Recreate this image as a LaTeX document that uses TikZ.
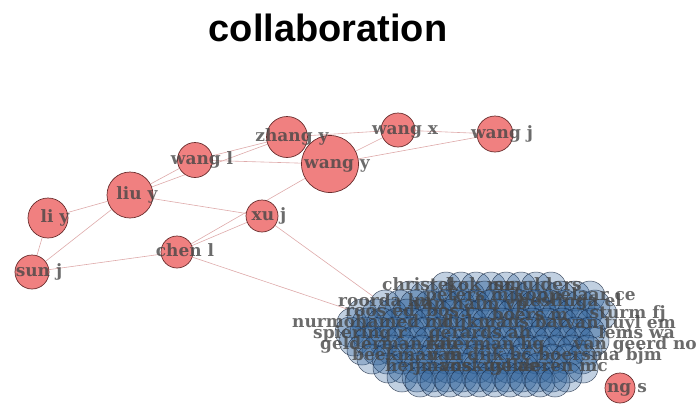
\documentclass[tikz,border=0pt]{standalone}
\usepackage{fontspec}
\newfontfamily\labelfont{DejaVu Serif}
\newfontfamily\titlefont{Liberation Sans}
\usetikzlibrary{backgrounds}
\definecolor{vred}{RGB}{240,128,128}
\definecolor{vredline}{RGB}{105,45,45}
\definecolor{vblue}{RGB}{50,100,155}
\definecolor{vblueline}{RGB}{20,35,60}
\definecolor{linkpink}{RGB}{222,170,170}
\definecolor{labgray}{RGB}{70,70,70}
\begin{document}
\begin{tikzpicture}[x=1pt, y=-1pt,
    author/.style={circle, draw=vredline, line width=0.7pt, fill=vred, inner sep=0pt, minimum size=#1},
    blob/.style={circle, draw=vblueline, line width=0.5pt, draw opacity=0.75, fill=vblue, fill opacity=0.3, inner sep=0pt, minimum size=30pt},
    lbl/.style={font=\labelfont\bfseries\fontsize{17}{17}\selectfont, text=labgray, text opacity=0.8, inner sep=0pt, text height=12pt, text depth=4pt},
    link/.style={draw=linkpink, line width=0.6pt}]
    \useasboundingbox (0,0) rectangle (697,408);

    \node[font=\titlefont\bfseries\fontsize{38}{38}\selectfont, anchor=base] (title) at (328,41) {collaboration};

    \foreach \r/\y/\xa/\n in {1/287/446/7, 2/296/410/12, 3/305/385/14, 4/314/362/16,
                              5/323/352/16, 6/332/350/16, 7/341/354/16, 8/350/362/15,
                              9/359/372/14, 10/368/388/13, 11/377/402/11, 12/382/420/9}
        \foreach \i in {0,...,\n}
            \node[blob] (b\r-\i) at (\xa+15*\i,\y) {};

    \node[author=40pt] (liy)    at (48,218)  {};
    \node[author=34pt] (sunj)   at (32,272)  {};
    \node[author=46pt] (liuy)   at (130,195) {};
    \node[author=35pt] (wangl)  at (195,160) {};
    \node[author=41pt] (zhangy) at (287,137) {};
    \node[author=57pt] (wangy)  at (330,164) {};
    \node[author=32pt] (xuj)    at (262,216) {};
    \node[author=32pt] (chenl)  at (177,252) {};
    \node[author=34pt] (wangx)  at (398,130) {};
    \node[author=36pt] (wangj)  at (495,134) {};
    \node[author=30pt] (ngs)    at (620,388) {};

    \begin{pgfonlayer}{background}
        \draw[link] (liy) -- (liuy);
        \draw[link] (liy) -- (sunj);
        \draw[link] (sunj) -- (liuy);
        \draw[link] (sunj) -- (chenl);
        \draw[link] (liuy) -- (wangl);
        \draw[link] (liuy) -- (zhangy);
        \draw[link] (liuy) -- (xuj);
        \draw[link] (wangl) -- (zhangy);
        \draw[link] (wangl) -- (wangy);
        \draw[link] (zhangy) -- (wangx);
        \draw[link] (wangy) -- (wangx);
        \draw[link] (wangy) -- (wangj);
        \draw[link] (wangx) -- (wangj);
        \draw[link] (chenl) -- (xuj);
        \draw[link] (chenl) -- (wangy);
        \draw[link] (xuj) -- (b3-0);
        \draw[link] (chenl) -- (b4-0);
    \end{pgfonlayer}

    \node[lbl, anchor=west] (c1) at (382,286) {christel};
    \node[lbl] (c2) at (480,286) {kok mr};
    \node[lbl, anchor=east] (c3) at (582,286) {smulders};
    \node[lbl] (c4) at (470,296) {peters mj};
    \node[lbl, anchor=east] (c5) at (636,296) {koppelaar ce};
    \node[lbl, anchor=west] (c6) at (338,302) {roorda lm};
    \node[lbl] (c25) at (470,305) {van halm vp};
    \node[lbl, anchor=east] (c7) at (622,302) {heslinga el};
    \node[lbl, anchor=west] (c8) at (345,312) {roos ed};
    \node[lbl] (c9) at (450,312) {bos r};
    \node[lbl] (c26) at (530,316) {boers m};
    \node[lbl, anchor=east] (c10) at (666,314) {sturm fj};
    \node[lbl, anchor=west] (c11) at (292,323) {nurmohamed mt};
    \node[lbl] (c12) at (505,323) {dijkmans bac};
    \node[lbl, anchor=east] (c13) at (676,324) {van tuyl em};
    \node[lbl, anchor=west] (c14) at (313,334) {spiering r};
    \node[lbl] (c15) at (480,334) {gerards ah};
    \node[lbl, anchor=east] (c16) at (675,334) {lems wa};
    \node[lbl, anchor=west] (c17) at (320,345) {gelderman km};
    \node[lbl] (c18) at (485,345) {raterman hg};
    \node[lbl, anchor=east] (c19) at (697,345) {van geerd no};
    \node[lbl, anchor=west] (c20) at (352,356) {beekman m};
    \node[lbl] (c27) at (480,356) {van dijk bc};
    \node[lbl, anchor=east] (c21) at (662,356) {boersma bjm};
    \node[lbl, anchor=west] (c22) at (385,367) {heijmans};
    \node[lbl] (c23) at (490,367) {voskuyl ae};
    \node[lbl, anchor=east] (c24) at (608,367) {gelderen mc};

    \node[lbl] (liy-t)    at ([xshift=7pt]liy)    {li y};
    \node[lbl] (sunj-t)   at ([xshift=7pt]sunj)   {sun j};
    \node[lbl] (liuy-t)   at ([xshift=7pt]liuy)   {liu y};
    \node[lbl] (wangl-t)  at ([xshift=7pt]wangl)  {wang l};
    \node[lbl] (zhangy-t) at ([xshift=5pt]zhangy) {zhang y};
    \node[lbl] (wangy-t)  at ([xshift=7pt]wangy)  {wang y};
    \node[lbl] (xuj-t)    at ([xshift=7pt]xuj)    {xu j};
    \node[lbl] (chenl-t)  at ([xshift=8pt]chenl)  {chen l};
    \node[lbl] (wangx-t)  at ([xshift=7pt]wangx)  {wang x};
    \node[lbl] (wangj-t)  at ([xshift=7pt]wangj)  {wang j};
    \node[lbl] (ngs-t)    at ([xshift=7pt]ngs)    {ng s};
\end{tikzpicture}
\end{document}
